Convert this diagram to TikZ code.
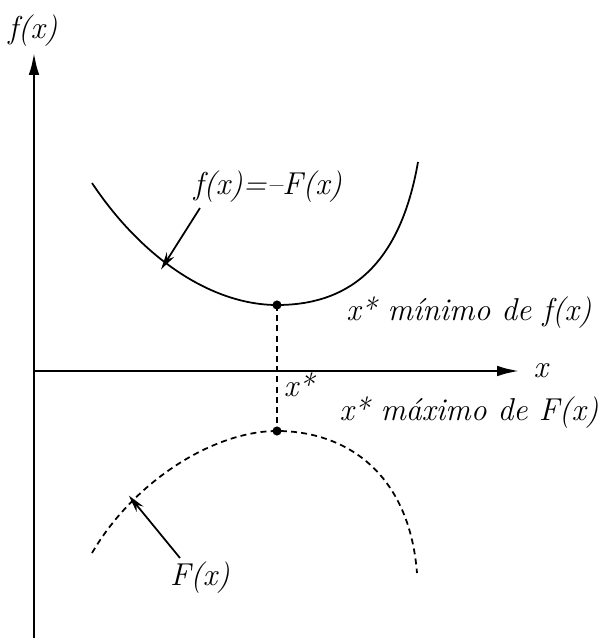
\documentclass[tikz,border=0pt]{standalone}
\usetikzlibrary{arrows.meta,positioning}

\begin{document}
\begin{tikzpicture}[every node/.style={font=\fontsize{18}{22}\selectfont\itshape},
  axis/.style={line width=1.7pt, -{Latex[length=13pt,width=6pt]}},
  curve/.style={line width=1pt},
  pointer/.style={line width=1pt, -{Stealth[length=10pt,width=5pt]}, shorten >=-1pt}]
  \useasboundingbox (-0.68,-5.34) rectangle (11.38,7.42);
  % axes
  \coordinate (o) at (0,0);
  \coordinate (ybot) at (0,-5.34);
  \coordinate (ytop) at (0,6.38);
  \coordinate (xend) at (9.72,0);
  \draw[axis] (ybot) -- (ytop);
  \draw[axis] (o) -- (xend);
  \node (ylab) at (-0.02,6.8) {f(x)};
  \node[right=0.15 of xend] (xlab) {x};

  % f(x) = -F(x), minimum at x*
  \coordinate (fmin) at (4.86,1.32);
  \draw[curve] (1.16,3.76) .. controls (2.2,2.2) and (3.6,1.32) .. (fmin)
    .. controls (6.2,1.32) and (7.3,2.0) .. (7.68,4.18);
  % F(x), maximum at x*
  \coordinate (Fmax) at (4.86,-1.2);
  \draw[curve, dash pattern=on 3.4pt off 2.4pt] (1.16,-3.64) .. controls (2.0,-2.2) and (3.6,-1.2) .. (Fmax)
    .. controls (6.2,-1.2) and (7.5,-2.0) .. (7.66,-4.04);
  % x* projection
  \draw[line width=0.9pt, dash pattern=on 3.4pt off 2.4pt] (fmin) -- (Fmax);
  \fill (fmin) circle (2.6pt);
  \fill (Fmax) circle (2.6pt);

  % labels
  \node (flab) at (4.68,3.68) {f(x)=--F(x)};
  \node (Flab) at (3.32,-4.14) {F(x)};
  \node (xstar) at (5.3,-0.28) {x*};
  \node (minlab) at (8.7,1.16) {x* mínimo de f(x)};
  \node (maxlab) at (8.7,-0.84) {x* máximo de F(x)};

  % pointers to the curves
  \coordinate (fpt) at (2.56,2.06);
  \coordinate (Fpt) at (1.92,-2.52);
  \draw[pointer] (3.32,3.26) -- (fpt);
  \draw[pointer] (2.92,-3.74) -- (Fpt);
\end{tikzpicture}
\end{document}
